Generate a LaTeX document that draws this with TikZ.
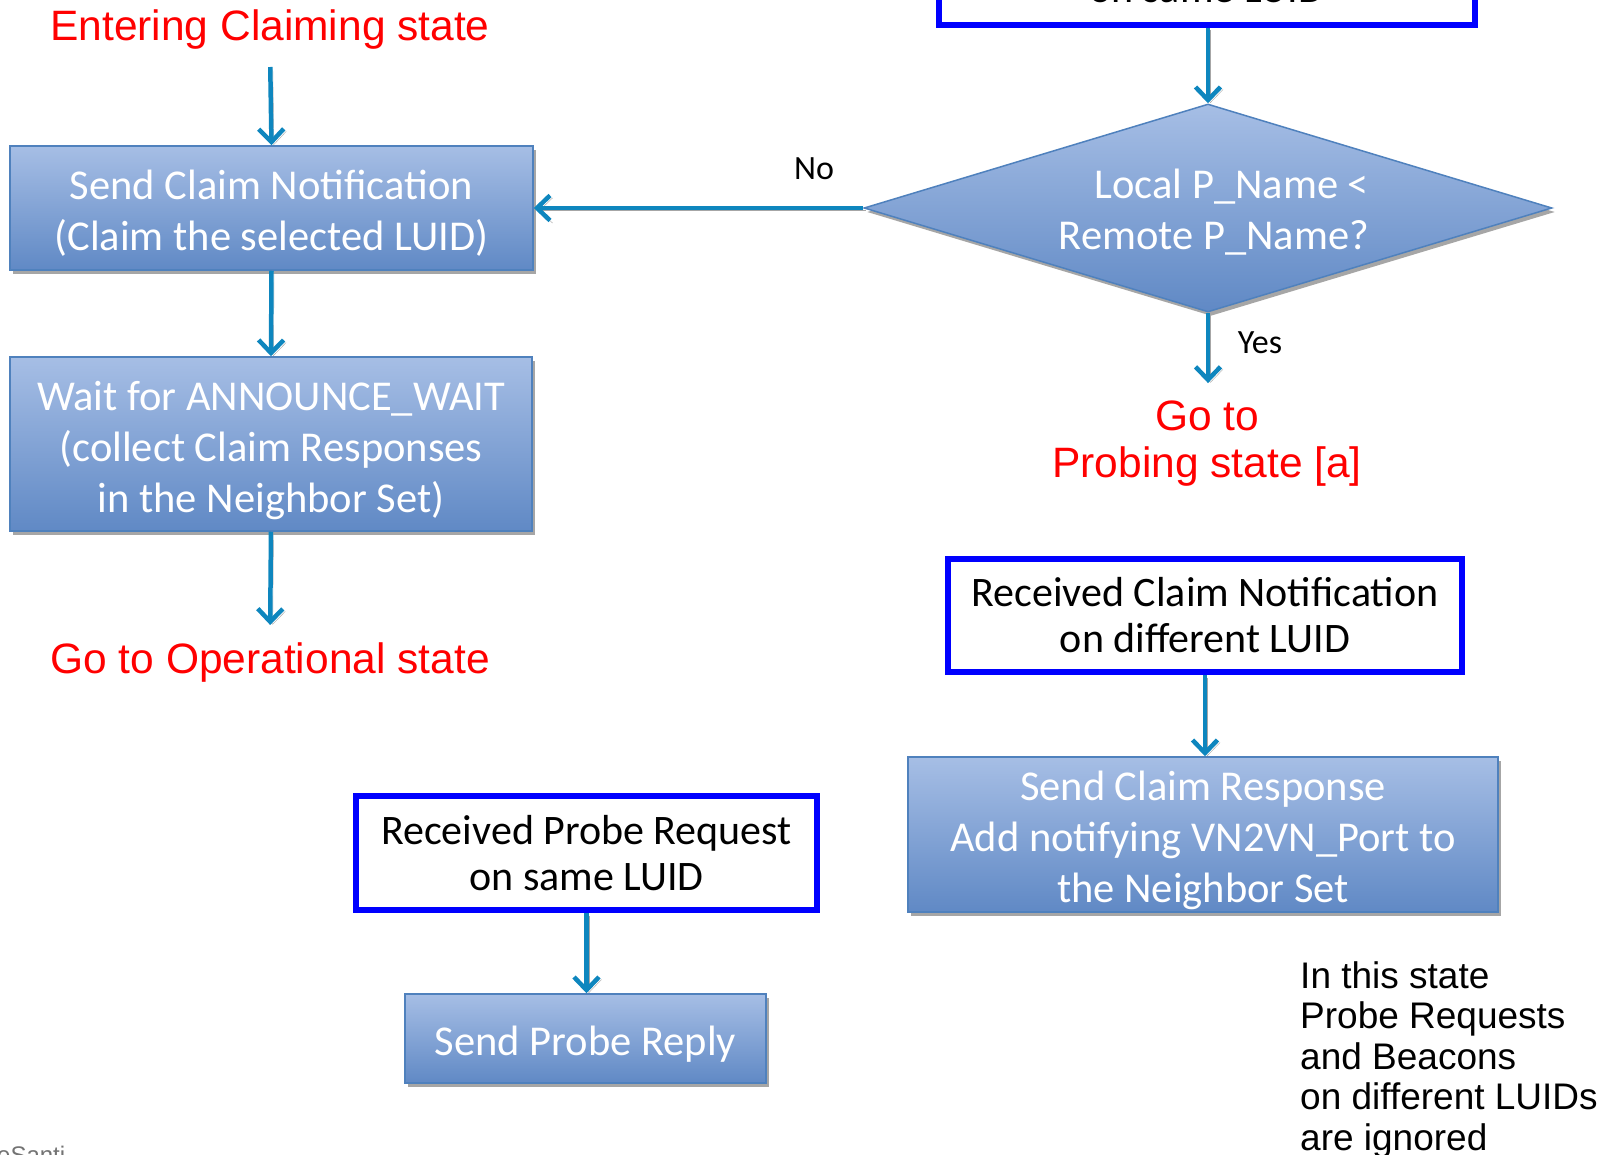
\documentclass[tikz,border=0pt]{standalone}
\usepackage{fontspec}
\setmainfont{Carlito}
\newfontfamily\arialfont{Liberation Sans}
\usetikzlibrary{arrows.meta,shapes.geometric,shadows}
\definecolor{boxtop}{RGB}{166,190,229}
\definecolor{boxbot}{RGB}{96,137,197}
\definecolor{boxline}{RGB}{79,129,189}
\definecolor{evblue}{RGB}{0,0,255}
\definecolor{arrc}{RGB}{14,134,190}
\newcommand\fltext[1]{\raisebox{-7pt}[\height][\depth]{\begin{tabular}{@{}c@{}}#1\end{tabular}}}
\begin{document}
\begin{tikzpicture}[x=1pt,y=-1pt,
  flow/.style={draw=boxline, line width=1.5pt, top color=boxtop, bottom color=boxbot,
    text=white, font=\fontsize{42.5}{51}\selectfont, inner sep=0pt,
    drop shadow={shadow xshift=3pt, shadow yshift=-4pt, fill=black!35, opacity=1}},
  event/.style={draw=evblue, line width=6pt, fill=white, text=black,
    font=\fontsize{42}{46}\selectfont, align=center, inner sep=0pt},
  redtxt/.style={text=red, font=\arialfont\fontsize{42.5}{47}\selectfont, align=center, inner sep=0pt},
  lbl/.style={text=black, font=\fontsize{34}{40}\selectfont, inner sep=0pt},
  arr/.style={draw=arrc, line width=4.5pt, -{Straight Barb[length=13pt,width=25pt]},
    preaction={draw=black!35, transform canvas={shift={(2.5pt,-2.5pt)}}}},
]
\fill[white] (0,0) rectangle (1617,1155);
\useasboundingbox (0,0) rectangle (1617,1155);

% left column
\node[redtxt] (enter) at (270,30) {Entering Claiming state};
\node[flow, minimum width=523pt, minimum height=124pt] (box1) at (271.5,208)
  {\fltext{Send Claim Notification\\(Claim the selected LUID)}};
\node[flow, minimum width=522pt, minimum height=174pt] (box2) at (271,444)
  {\fltext{Wait for ANNOUNCE\_WAIT\\(collect Claim Responses\\in the Neighbor Set)}};
\node[redtxt] (oper) at (270,663) {Go to Operational state};

% top right
\node[event, minimum width=536pt, minimum height=120pt] (topbox) at (1207,-35) {};
\node[inner sep=0pt, anchor=base, font=\fontsize{42}{46}\selectfont] (toptxt) at (1207,3) {on same LUID};
\node[diamond, shape aspect=3.3, minimum width=688pt, minimum height=208pt, inner sep=0pt,
  draw=boxline, line width=1.5pt, top color=boxtop, bottom color=boxbot,
  drop shadow={shadow xshift=3pt, shadow yshift=-4pt, fill=black!35, opacity=1}] (dia) at (1208,208) {};
\node[text=white, font=\fontsize{42.5}{51}\selectfont, align=right, inner sep=0pt] (diatxt) at (1214,212)
  {Local P\_Name <\\Remote P\_Name?};
\node[lbl] (no) at (814,169) {No};
\node[lbl] (yes) at (1260,343) {Yes};
\node[redtxt] (probing) at (1207,444) {Go to\\Probing state [a]};

% middle right
\node[event, minimum width=514pt, minimum height=113pt] (box3) at (1205,615.5)
  {Received Claim Notification\\on different LUID};
\node[flow, minimum width=590pt, minimum height=155pt] (box4) at (1203,834.5)
  {\fltext{Send Claim Response\\Add notifying VN2VN\_Port to\\the Neighbor Set}};

% bottom middle
\node[event, minimum width=461pt, minimum height=114pt] (box5) at (586.5,853)
  {Received Probe Request\\on same LUID};
\node[flow, minimum width=361pt, minimum height=89pt] (box6) at (585.5,1038.5)
  {\fltext{Send Probe Reply}};

% note
\node[anchor=north west, align=left, inner sep=0pt, font=\arialfont\fontsize{37}{40.5}\selectfont] (note) at (1300,961)
  {In this state\\Probe Requests\\and Beacons\\on different LUIDs\\are ignored};
\node[anchor=base west, inner sep=0pt, text=black!55, font=\arialfont\fontsize{24}{28}\selectfont] (foot) at (-3,1163) {eSanti};

% connectors
\draw[arr, shorten <=17pt] (enter.south) -- (box1.north);
\draw[arr] (box1.south) -- (box2.north);
\draw[arr, shorten >=18pt] (box2.south) -- (oper.north);
\draw[arr] (topbox.south -| dia.north) -- (dia.north);
\draw[arr] (dia.west) -- (box1.east);
\draw[arr, shorten >=18pt] (dia.south) -- (dia.south |- probing.north);
\draw[arr] (box3.south) -- (box3.south |- box4.north);
\draw[arr] (box5.south) -- (box5.south |- box6.north);
\end{tikzpicture}
\end{document}
